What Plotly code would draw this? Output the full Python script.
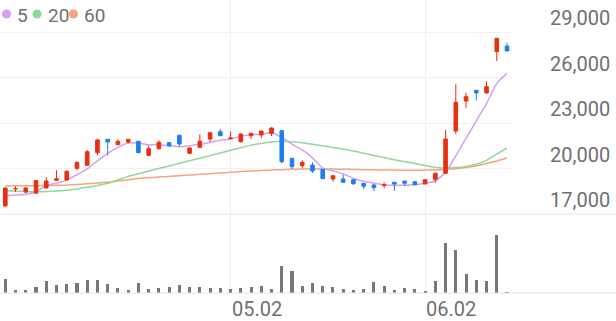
import plotly.graph_objects as go
import pandas as pd

W, H = 616, 321

# ---------------- data ----------------
idx = list(range(50))
opens = [17530, 18650, 18450, 18370, 18715, 19220, 19240, 20015, 20212, 21042,
         21926, 21570, 21750, 21794, 20871, 21306, 21700, 22190, 21000, 21398,
         21945, 22427, 21960, 21768, 22163, 22210, 22320, 22493, 20673, 20185,
         20231, 19948, 19308, 19308, 19264, 19025, 18913, 18890, 19090, 19176,
         19130, 18980, 19288, 19684, 22473, 24451, 25156, 24978, 27701, 28077]
highs = [18750, 18850, 18800, 19240, 19420, 19880, 19860, 20450, 21220, 21965,
         21926, 21926, 21950, 21810, 21504, 21860, 21750, 22190, 21400, 22256,
         22400, 22600, 22450, 22320, 22340, 22500, 22700, 22550, 20700, 20540,
         20409, 19950, 19540, 19590, 19280, 19030, 19000, 19090, 19090, 19180,
         19150, 19280, 19700, 22539, 25552, 25000, 25160, 25750, 28600, 28295]
lows = [17500, 18450, 18370, 18370, 18700, 19220, 19200, 19855, 20200, 20890,
        20870, 21560, 21640, 21042, 20805, 21240, 21484, 21440, 20937, 21350,
        21750, 22163, 21945, 21700, 21945, 21990, 22140, 20340, 19970, 20014,
        19704, 19328, 19130, 19090, 18913, 18649, 18517, 18695, 18517, 18870,
        18900, 18970, 19066, 19650, 22255, 23970, 24470, 24960, 27088, 27747]
closes = [18715, 18680, 18715, 19200, 19180, 19330, 19816, 20409, 21108, 21880,
          21748, 21794, 21926, 21042, 21306, 21728, 21484, 21616, 21352, 21794,
          22361, 22163, 22010, 22275, 22322, 22473, 22670, 20449, 20119, 20409,
          19836, 19328, 19526, 19090, 19000, 18827, 18737, 18930, 18980, 19025,
          18935, 19262, 19684, 21945, 24365, 24735, 24978, 25394, 28585, 27747]
volumes = [700, 165, 135, 300, 585, 415, 465, 500, 665, 665,
           465, 250, 135, 500, 200, 250, 300, 415, 300, 300,
           250, 250, 200, 250, 300, 365, 215, 1335, 1115, 335,
           500, 365, 300, 215, 165, 200, 565, 365, 165, 250,
           200, 100, 615, 2500, 2165, 965, 635, 585, 2900, 15]
ma5_head = [18210, 18250, 18300, 18470]
ma20 = [18537, 18510, 18480, 18470, 18480, 18510, 18570, 18650, 18760, 18880,
        19030, 19250, 19480, 19650, 19830, 20000, 20170, 20340, 20510, 20680,
        20850, 21020, 21200, 21370, 21540, 21650, 21740, 21790, 21770, 21700,
        21600, 21500, 21390, 21280, 21150, 21010, 20860, 20720, 20580, 20450,
        20330, 20200, 20080, 20020, 20060, 20140, 20280, 20540, 20950, 21350]
ma60 = [18850, 18855, 18860, 18870, 18880, 18895, 18910, 18950, 18990, 19040,
        19100, 19170, 19260, 19345, 19390, 19435, 19480, 19525, 19570, 19615,
        19660, 19705, 19750, 19795, 19835, 19870, 19900, 19925, 19945, 19960,
        19965, 19965, 19960, 19950, 19940, 19925, 19910, 19900, 19895, 19890,
        19890, 19895, 19910, 19940, 19990, 20060, 20170, 20330, 20500, 20690]
ma_names = ["5", "20", "60"]
ytick_vals = [17000, 20000, 23000, 26000, 29000]
xtick_pos = [22, 41]
xtick_text = ["05.02", "06.02"]

ma5 = ma5_head + pd.Series(closes).rolling(5).mean().tolist()[4:]

# ---------------- style ----------------
RED = "#e8300e"
BLUE = "#1a80f0"
C_MA5 = "#d6a0ee"
C_MA20 = "#8fd89c"
C_MA60 = "#f6a47c"
TXT = "#707070"
FONT = "Roboto"

def py(px):
    return 1 - px / H

def pxx(px):
    return px / W

fig = go.Figure()

for vals, col in [(ma60, C_MA60), (ma20, C_MA20), (ma5, C_MA5)]:
    fig.add_trace(go.Scatter(x=idx, y=vals, mode="lines", xaxis="x", yaxis="y",
                             line=dict(color=col, width=1.5, shape="spline", smoothing=0.5),
                             hoverinfo="skip", showlegend=False))

fig.add_trace(go.Candlestick(
    x=idx, open=opens, high=highs, low=lows, close=closes, xaxis="x", yaxis="y3",
    increasing=dict(line=dict(color=RED, width=1), fillcolor=RED),
    decreasing=dict(line=dict(color=BLUE, width=1), fillcolor=BLUE),
    whiskerwidth=0, showlegend=False, hoverinfo="skip"))

fig.add_trace(go.Bar(x=idx, y=volumes, xaxis="x", yaxis="y2", width=0.3,
                     marker=dict(color="#777777", line=dict(width=0)),
                     showlegend=False, hoverinfo="skip"))

xdom_end = 511 / W
price_dom = [py(214), 1]
vol_dom = [py(293), py(214)]
ppx = 12000 / 182.0  # value per pixel
price_range = [17000, 17000 + 214 * ppx]

annotations = []
for v in ytick_vals:
    annotations.append(dict(x=pxx(612), y=v, xref="paper", yref="y", xanchor="right",
                             yanchor="middle", yshift=14, showarrow=False,
                             text=f"{v:,}", font=dict(family=FONT, size=20, color=TXT)))
for p, t in zip(xtick_pos, xtick_text):
    annotations.append(dict(x=p, y=py(309), xref="x", yref="paper", xanchor="left",
                            yanchor="middle", xshift=-1, showarrow=False, text=t,
                            font=dict(family=FONT, size=20, color=TXT)))

shapes = [
    dict(type="line", xref="paper", yref="paper", x0=0, x1=1, y0=py(214), y1=py(214),
         line=dict(color="#e6e6e6", width=1)),
    dict(type="line", xref="paper", yref="paper", x0=0, x1=1, y0=py(293), y1=py(293),
         line=dict(color="#e6e6e6", width=1)),
]
# legend
leg_items = [(6.5, 16, C_MA5), (37, 47, C_MA20), (73.5, 83, C_MA60)]
for name, (cx, tx, col) in zip(ma_names, leg_items):
    shapes.append(dict(type="circle", xref="paper", yref="paper",
                       x0=pxx(cx - 4.5), x1=pxx(cx + 4.5), y0=py(18.5), y1=py(9.5),
                       fillcolor=col, line=dict(width=0)))
    annotations.append(dict(x=pxx(tx - 1), y=py(15), xref="paper", yref="paper",
                            xanchor="left", yanchor="middle", showarrow=False, text=name,
                            font=dict(family=FONT, size=19, color=TXT)))

fig.update_layout(
    width=W, height=H, margin=dict(l=0, r=0, t=0, b=0),
    paper_bgcolor="white", plot_bgcolor="white",
    boxgap=0.5, bargap=0, showlegend=False, hovermode=False,
    xaxis=dict(domain=[0, xdom_end], range=[-0.518, 49.39], anchor="y2",
               tickvals=xtick_pos, showticklabels=False, showgrid=True,
               gridcolor="#efefef", gridwidth=1, zeroline=False, showline=False,
               ticks="", rangeslider=dict(visible=False), fixedrange=True),
    yaxis=dict(domain=price_dom, range=price_range, tickvals=ytick_vals,
               showticklabels=False, showgrid=True, gridcolor="#f1f1f1",
               zeroline=False, showline=False, ticks="", anchor="x"),
    yaxis3=dict(overlaying="y", range=price_range, visible=False, showgrid=False,
                zeroline=False, anchor="x"),
    yaxis2=dict(domain=vol_dom, range=[0, 3950], showticklabels=False, showgrid=False,
                zeroline=False, showline=False, ticks="", anchor="x"),
    annotations=annotations, shapes=shapes,
)

fig.write_html("out.html")
